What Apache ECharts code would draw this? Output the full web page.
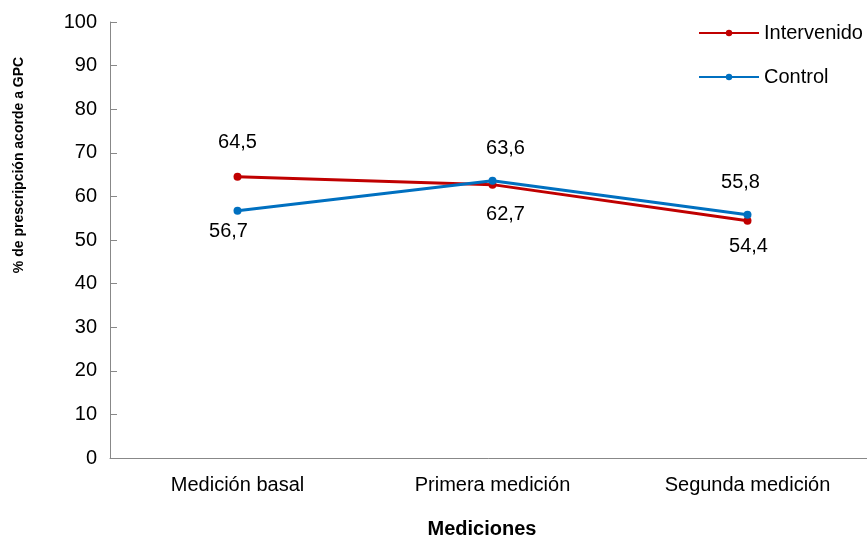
<!DOCTYPE html>
<html>
<head>
<meta charset="utf-8">
<script src="https://cdn.jsdelivr.net/npm/echarts@6/dist/echarts.min.js"></script>
<style>
html,body{margin:0;padding:0;background:#fff;}
#chart{width:867px;height:539px;}
</style>
</head>
<body>
<div id="chart"></div>
<script>
const categories = ['Medición basal', 'Primera medición', 'Segunda medición'];
const intervenido = [64.5, 62.7, 54.4];
const control = [56.7, 63.6, 55.8];
const intervenidoLabelPos = ['top', 'bottom', 'bottom'];
const controlLabelPos = ['bottom', 'top', 'top'];
const yTicks = [0, 10, 20, 30, 40, 50, 60, 70, 80, 90, 100];

const FONT = '"Liberation Sans", Arial, sans-serif';
const fmt = v => String(v).replace('.', ',');

function mk(values, positions, dist, dx) {
  return values.map((v, i) => ({
    value: v,
    label: {
      show: true,
      position: positions[i],
      distance: dist[i],
      offset: [dx[i], 0],
      formatter: p => fmt(p.value),
      color: '#000',
      fontSize: 20,
      fontFamily: FONT
    }
  }));
}

const chart = echarts.init(document.getElementById('chart'));
chart.setOption({
  animation: false,
  textStyle: { fontFamily: FONT },
  grid: { left: 110, right: -8, top: 22, bottom: 81, containLabel: false, outerBoundsMode: 'none' },
  legend: {
    orient: 'vertical',
    left: 693,
    top: 18,
    itemWidth: 60,
    itemHeight: 8,
    itemGap: 24,
    textStyle: { fontSize: 20, color: '#000', fontFamily: FONT },
    data: ['Intervenido', 'Control']
  },
  xAxis: {
    type: 'category',
    data: categories,
    boundaryGap: true,
    axisLine: { lineStyle: { color: '#888', width: 1 } },
    axisTick: { show: false },
    axisLabel: { color: '#000', fontSize: 20, fontFamily: FONT, margin: 17 }
  },
  yAxis: {
    type: 'value',
    min: yTicks[0],
    max: yTicks[yTicks.length - 1],
    interval: 10,
    splitLine: { show: false },
    axisLine: { show: true, lineStyle: { color: '#888', width: 1 } },
    axisTick: { show: true, inside: true, length: 7, lineStyle: { color: '#888' } },
    axisLabel: { color: '#000', fontSize: 20, fontFamily: FONT, margin: 13 }
  },
  graphic: [
    {
      type: 'text', x: 19, y: 165, rotation: Math.PI / 2,
      style: { text: '% de prescripción acorde a GPC', font: 'bold 14px "Liberation Sans", Arial, sans-serif', fill: '#000', align: 'center', verticalAlign: 'middle' }
    },
    {
      type: 'text', x: 482, y: 529,
      style: { text: 'Mediciones', font: 'bold 20px "Liberation Sans", Arial, sans-serif', fill: '#000', align: 'center', verticalAlign: 'middle' }
    }
  ],
  series: [
    {
      name: 'Intervenido',
      type: 'line',
      data: mk(intervenido, intervenidoLabelPos, [20, 16, 12], [0, 13, 1]),
      color: '#C00000',
      symbol: 'circle',
      symbolSize: 8,
      lineStyle: { width: 3, color: '#C00000' },
      itemStyle: { color: '#C00000' }
    },
    {
      name: 'Control',
      type: 'line',
      data: mk(control, controlLabelPos, [7, 18, 18], [-9, 13, -7]),
      color: '#0070C0',
      symbol: 'circle',
      symbolSize: 8,
      lineStyle: { width: 3, color: '#0070C0' },
      itemStyle: { color: '#0070C0' }
    }
  ]
});
</script>
</body>
</html>
